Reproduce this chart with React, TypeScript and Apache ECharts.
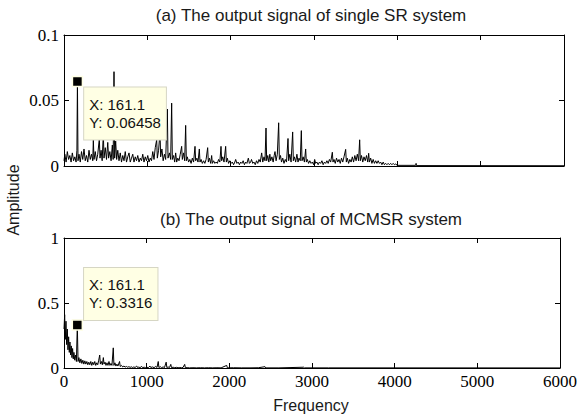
import React, { useEffect, useRef } from 'react';
import * as echarts from 'echarts';

const SANS = 'Liberation Sans';
const SERIF = "'Liberation Serif', 'Times New Roman', Times, serif";

const titleA = '(a) The output signal of single SR system';
const titleB = '(b) The output signal of MCMSR system';
const xName = 'Frequency';
const yName = 'Amplitude';

const tipA: [number, number] = [161.1, 0.06458];
const tipB: [number, number] = [161.1, 0.3316];

// (a) single SR output spectrum, [frequency, amplitude]
const topLow: [number, number][] = [
  [0, 0.004], [10, 0.009], [25, 0.003], [40, 0.011], [55, 0.005], [70, 0.008], [85, 0.003],
  [100, 0.01], [115, 0.004], [130, 0.007], [145, 0.003], [155, 0.012], [161.1, 0.06458],
  [168, 0.004], [180, 0.009], [195, 0.003], [210, 0.011], [225, 0.005], [240, 0.013],
  [255, 0.004], [270, 0.008], [285, 0.003], [300, 0.012], [315, 0.005], [330, 0.009],
  [345, 0.004], [352, 0.02], [360, 0.005], [375, 0.011], [390, 0.004], [405, 0.009],
  [424, 0.021], [432, 0.006], [445, 0.012], [458, 0.004], [472, 0.025], [480, 0.006],
  [495, 0.014], [510, 0.005], [525, 0.018], [535, 0.006], [550, 0.011], [565, 0.004],
  [580, 0.016], [590, 0.005], [600, 0.072], [608, 0.006], [620, 0.019], [632, 0.005],
  [645, 0.012], [660, 0.004], [675, 0.01], [690, 0.003], [705, 0.008], [720, 0.004],
  [735, 0.011], [750, 0.003], [765, 0.007], [780, 0.01], [795, 0.003], [810, 0.006],
  [825, 0.009], [840, 0.003], [855, 0.007], [870, 0.004], [885, 0.008], [900, 0.003],
  [915, 0.006], [930, 0.004], [945, 0.009], [960, 0.003], [975, 0.007], [990, 0.004],
];
const topMid: [number, number][] = [
  [1005, 0.008], [1020, 0.003], [1035, 0.006], [1050, 0.004], [1065, 0.011], [1080, 0.005],
  [1095, 0.014], [1112, 0.02], [1120, 0.006], [1135, 0.012], [1152, 0.026], [1160, 0.007],
  [1175, 0.013], [1190, 0.004], [1205, 0.009], [1220, 0.005], [1240, 0.0435], [1248, 0.006],
  [1265, 0.01], [1280, 0.005], [1292, 0.048], [1300, 0.005], [1315, 0.008], [1328, 0.003],
  [1340, 0.01], [1352, 0.003], [1365, 0.006], [1380, 0.004], [1395, 0.009], [1412, 0.015],
  [1420, 0.005], [1435, 0.01], [1448, 0.004], [1460, 0.031], [1468, 0.004], [1480, 0.007],
  [1495, 0.003], [1510, 0.005], [1525, 0.002], [1540, 0.006], [1555, 0.003], [1572, 0.015],
  [1580, 0.004], [1595, 0.006], [1608, 0.003], [1624, 0.013], [1632, 0.003], [1645, 0.005],
  [1660, 0.002], [1675, 0.004], [1690, 0.002], [1705, 0.005], [1724, 0.014], [1732, 0.003],
  [1745, 0.006], [1760, 0.002], [1772, 0.008], [1780, 0.002], [1795, 0.004], [1810, 0.002],
  [1825, 0.003], [1840, 0.002], [1855, 0.005], [1870, 0.003], [1884, 0.015], [1892, 0.004],
  [1905, 0.007], [1920, 0.003], [1940, 0.015], [1948, 0.003], [1960, 0.006], [1975, 0.002],
  [1990, 0.004],
];
const topHigh: [number, number][] = [
  [2005, 0.002], [2020, 0.003], [2035, 0.001], [2050, 0.003], [2060, 0.005], [2075, 0.002],
  [2090, 0.003], [2105, 0.001], [2120, 0.003], [2135, 0.002], [2150, 0.004], [2165, 0.001],
  [2180, 0.003], [2195, 0.002], [2212, 0.006], [2225, 0.002], [2240, 0.003], [2250, 0.005],
  [2265, 0.002], [2280, 0.003], [2295, 0.001], [2310, 0.004], [2325, 0.002], [2340, 0.005],
  [2355, 0.003], [2372, 0.01], [2385, 0.003], [2400, 0.007], [2412, 0.004], [2424, 0.029],
  [2432, 0.004], [2445, 0.008], [2458, 0.003], [2470, 0.009], [2480, 0.004], [2495, 0.007],
  [2510, 0.003], [2522, 0.008], [2532, 0.011], [2545, 0.004], [2560, 0.009], [2576, 0.033],
  [2584, 0.005], [2598, 0.008], [2610, 0.003], [2625, 0.006], [2640, 0.002], [2655, 0.005],
  [2670, 0.003], [2688, 0.021], [2696, 0.004], [2710, 0.009], [2725, 0.003], [2744, 0.026],
  [2752, 0.004], [2765, 0.007], [2780, 0.003], [2795, 0.009], [2808, 0.003], [2820, 0.006],
  [2835, 0.004], [2848, 0.027], [2856, 0.004], [2870, 0.007], [2885, 0.003], [2900, 0.013],
  [2908, 0.003], [2920, 0.005], [2935, 0.002], [2950, 0.004], [2965, 0.002], [2980, 0.003],
  [2995, 0.001], [3008, 0.005], [3020, 0.002], [3035, 0.003], [3050, 0.001], [3065, 0.003],
  [3080, 0.002], [3095, 0.004], [3110, 0.001], [3125, 0.003], [3140, 0.002], [3155, 0.004],
  [3170, 0.002], [3185, 0.005], [3200, 0.003], [3220, 0.0105], [3228, 0.003], [3240, 0.005],
  [3255, 0.002], [3270, 0.006], [3285, 0.003], [3300, 0.005], [3315, 0.002], [3330, 0.006],
  [3345, 0.003], [3360, 0.007], [3380, 0.0127], [3388, 0.003], [3400, 0.006], [3415, 0.002],
  [3430, 0.005], [3445, 0.003], [3460, 0.007], [3475, 0.003], [3490, 0.008], [3505, 0.004],
  [3520, 0.009], [3535, 0.004], [3548, 0.02], [3556, 0.004], [3570, 0.008], [3585, 0.003],
  [3600, 0.007], [3615, 0.004], [3630, 0.008], [3645, 0.003], [3656, 0.0097], [3665, 0.003],
  [3680, 0.006], [3695, 0.002], [3710, 0.005], [3725, 0.002], [3740, 0.004], [3755, 0.002],
  [3770, 0.004], [3785, 0.002], [3800, 0.003], [3815, 0.001], [3830, 0.003], [3845, 0.001],
  [3860, 0.002], [3875, 0.001], [3890, 0.002], [3905, 0.001], [3920, 0.002], [3935, 0.001],
  [3950, 0.002], [3965, 0.001], [3980, 0.0015], [4000, 0.0005], [4220, 0.0005], [4225, 0.002],
  [4230, 0.0003], [6000, 0.0002],
];

// (b) MCMSR output spectrum, [frequency, amplitude]
const botLow: [number, number][] = [
  [0, 0.3], [8, 0.41], [16, 0.22], [24, 0.36], [32, 0.18], [40, 0.3], [48, 0.14], [56, 0.24],
  [64, 0.12], [72, 0.2], [80, 0.1], [88, 0.17], [96, 0.08], [104, 0.15], [112, 0.07],
  [120, 0.12], [130, 0.06], [140, 0.1], [150, 0.05], [161.1, 0.3316], [170, 0.05], [180, 0.08],
  [192, 0.04], [204, 0.07], [216, 0.035], [228, 0.06], [240, 0.03], [252, 0.055], [264, 0.03],
  [276, 0.05], [288, 0.025], [300, 0.045], [312, 0.025], [324, 0.05], [336, 0.02], [348, 0.045],
  [360, 0.025], [372, 0.05], [384, 0.02], [396, 0.04], [408, 0.025], [420, 0.06], [432, 0.1],
  [440, 0.03], [452, 0.05], [464, 0.025], [476, 0.08], [484, 0.03], [496, 0.045], [508, 0.02],
  [520, 0.04], [532, 0.02], [544, 0.05], [556, 0.02], [568, 0.035], [580, 0.02], [596, 0.155],
  [604, 0.02], [616, 0.04], [628, 0.015], [640, 0.03], [652, 0.015], [672, 0.05], [680, 0.012],
  [695, 0.02], [710, 0.008], [725, 0.015], [740, 0.007], [755, 0.012], [770, 0.006], [785, 0.01],
  [800, 0.005], [815, 0.009], [830, 0.004], [845, 0.008], [860, 0.004], [880, 0.015],
  [890, 0.004], [905, 0.007], [920, 0.003], [940, 0.012], [950, 0.003], [970, 0.006], [985, 0.003],
];
const botHigh: [number, number][] = [
  [1000, 0.006], [1020, 0.003], [1040, 0.015], [1050, 0.004], [1070, 0.008], [1090, 0.003],
  [1110, 0.012], [1125, 0.004], [1140, 0.05], [1148, 0.004], [1165, 0.01], [1180, 0.003],
  [1200, 0.008], [1215, 0.003], [1236, 0.045], [1244, 0.004], [1260, 0.008], [1275, 0.003],
  [1292, 0.028], [1300, 0.003], [1320, 0.006], [1340, 0.002], [1360, 0.005], [1380, 0.002],
  [1400, 0.004], [1420, 0.002], [1440, 0.004], [1460, 0.028], [1468, 0.002], [1490, 0.003],
  [1520, 0.001], [1560, 0.002], [1600, 0.001], [1650, 0.002], [1700, 0.001], [1750, 0.002],
  [1800, 0.001], [1850, 0.002], [1900, 0.001], [1968, 0.02], [1976, 0.001], [2050, 0.002],
  [2150, 0.001], [2250, 0.001], [2350, 0.002], [2432, 0.01], [2440, 0.001], [2600, 0.001],
  [2900, 0.006], [2908, 0.001], [3200, 0.001], [6000, 0.0005],
];

const topSeries = [...topLow, ...topMid, ...topHigh];
const botSeries = [...botLow, ...botHigh];

const axisCommon = {
  axisLine: { onZero: false, lineStyle: { color: '#000', width: 1 } },
  axisTick: { inside: true, length: 5, lineStyle: { color: '#000', width: 1 } },
  splitLine: { show: false },
};

const labelStyle = (labels: boolean) => ({
  show: labels,
  fontFamily: SERIF,
  fontSize: 17,
  color: '#000',
  margin: 5,
  formatter: (v: number) => String(v),
});

const mkX = (grid: number, pos: string, labels: boolean) => ({
  type: 'value', gridIndex: grid, position: pos, min: 0, max: 6000, interval: 1000,
  ...axisCommon,
  axisLabel: labelStyle(labels),
});

const mkY = (grid: number, pos: string, labels: boolean, max: number, interval: number) => ({
  type: 'value', gridIndex: grid, position: pos, min: 0, max, interval,
  ...axisCommon,
  axisLabel: labelStyle(labels),
});

const tipLabel = (pt: [number, number], dy: number) => ({
  show: true,
  position: 'right',
  distance: 1,
  offset: [0, dy],
  formatter: `X: ${pt[0]}\nY: ${pt[1]}`,
  fontFamily: SANS,
  fontSize: 15,
  lineHeight: 18,
  color: '#111',
  align: 'left',
  backgroundColor: '#FFFFE4',
  borderColor: '#D6D6C4',
  borderWidth: 1,
  padding: [8, 5, 8, 5],
});

const tipPoint = (pt: [number, number], dy: number) => ({
  symbol: 'rect',
  symbolSize: 10,
  silent: true,
  data: [{
    coord: pt,
    itemStyle: { color: '#000', borderColor: '#FFFFE4', borderWidth: 1.5 },
    label: tipLabel(pt, dy),
  }],
});

const textStyle = (text: string, size: number) => ({
  text, fontFamily: SANS, fontSize: size, fill: '#1a1a1a', align: 'center', verticalAlign: 'middle',
});

const option = {
  animation: false,
  backgroundColor: '#fff',
  grid: [
    { left: 64, right: 16, top: 35, height: 131 },
    { left: 64, right: 16, top: 238, height: 130 },
  ],
  xAxis: [mkX(0, 'bottom', false), mkX(0, 'top', false), mkX(1, 'bottom', true), mkX(1, 'top', false)],
  yAxis: [
    mkY(0, 'left', true, 0.1, 0.05), mkY(0, 'right', false, 0.1, 0.05),
    mkY(1, 'left', true, 1, 0.5), mkY(1, 'right', false, 1, 0.5),
  ],
  series: [
    {
      type: 'line', xAxisIndex: 0, yAxisIndex: 0, data: topSeries, showSymbol: false,
      lineStyle: { color: '#000', width: 1 }, itemStyle: { color: '#000' },
      markPoint: tipPoint(tipA, 32),
    },
    {
      type: 'line', xAxisIndex: 2, yAxisIndex: 2, data: botSeries, showSymbol: false,
      lineStyle: { color: '#000', width: 1 }, itemStyle: { color: '#000' },
      markPoint: tipPoint(tipB, -31),
    },
  ],
  graphic: [
    { type: 'text', x: 311, y: 15, style: textStyle(titleA, 17) },
    { type: 'text', x: 311, y: 219, style: textStyle(titleB, 17) },
    { type: 'text', x: 311, y: 405, style: textStyle(xName, 16) },
    { type: 'text', x: 13, y: 200, rotation: Math.PI / 2, style: textStyle(yName, 16) },
  ],
};

export default function App() {
  const ref = useRef<HTMLDivElement>(null);
  useEffect(() => {
    if (!ref.current) return;
    const chart = echarts.init(ref.current, null, { renderer: 'svg' });
    chart.setOption(option as any);
    return () => chart.dispose();
  }, []);
  return (
    <div
      ref={ref}
      style={{ position: 'fixed', left: 0, top: 0, width: 580, height: 415, background: '#fff' }}
    />
  );
}
